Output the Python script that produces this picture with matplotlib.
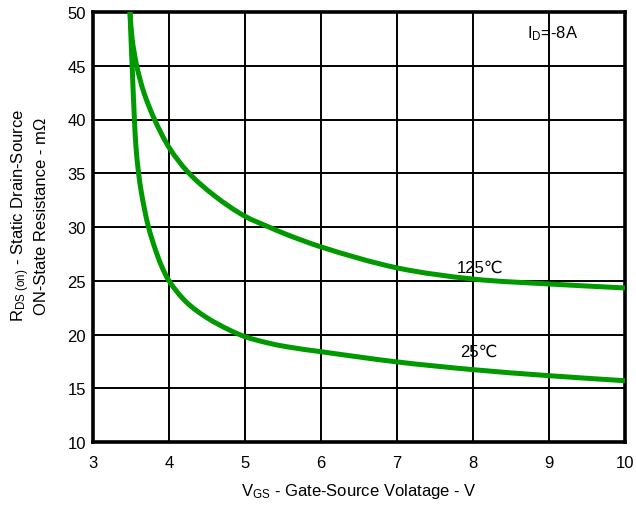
import matplotlib
matplotlib.use("Agg")
import matplotlib.pyplot as plt
import numpy as np
from matplotlib.path import Path
from matplotlib.patches import PathPatch

plt.rcParams['font.family'] = ['Liberation Sans', 'DejaVu Sans']
plt.rcParams['mathtext.fontset'] = 'custom'
plt.rcParams['mathtext.rm'] = 'Liberation Sans'
plt.rcParams['mathtext.it'] = 'Liberation Sans'

# Data
vgs_125 = [3.487, 3.515, 3.575, 3.67, 3.81, 4.01, 4.25, 4.6, 5.0, 5.33, 5.55, 6.0,
           7.0, 8.0, 9.0, 10.0]
rds_125 = [50.0, 47.5, 45.0, 42.5, 40.0, 37.3, 35.1, 32.9, 31.0, 29.95, 29.3, 28.15,
           26.2, 25.16, 24.7, 24.33]

vgs_25 = [3.487, 3.50, 3.515, 3.545, 3.565, 3.60, 3.64, 3.73, 3.816, 3.9, 4.0, 4.23, 4.49,
          4.80, 5.0, 5.31, 5.55, 6.0, 7.0, 8.0, 9.0, 10.0]
rds_25 = [50.0, 47.5, 45.0, 40.0, 37.5, 35.0, 33.07, 30.0, 28.0, 26.4, 25.0, 23.0, 21.6,
          20.4, 19.8, 19.2, 18.86, 18.4, 17.45, 16.73, 16.17, 15.7]

x_ticks = [3, 4, 5, 6, 7, 8, 9, 10]
y_ticks = [10, 15, 20, 25, 30, 35, 40, 45, 50]

fig = plt.figure(figsize=(6.36, 5.06), dpi=100)
ax = fig.add_axes([93/636, 1-443/506, (625-93)/636, (443-13)/506])
ax.set_xlim(3, 10)
ax.set_ylim(10, 50)


def smooth_path(xs, ys, sx=76.0, sy=10.75):
    """Smooth Bezier path through the given data points (tangent-based)."""
    P = np.column_stack([np.asarray(xs) * sx, np.asarray(ys) * sy])
    n = len(P)
    T = np.zeros_like(P)
    for i in range(n):
        if i == 0:
            d = P[1] - P[0]
        elif i == n - 1:
            d = P[-1] - P[-2]
        else:
            d1 = P[i] - P[i - 1]
            d2 = P[i + 1] - P[i]
            d = d1 / np.linalg.norm(d1) + d2 / np.linalg.norm(d2)
        T[i] = d / np.linalg.norm(d)
    verts = [P[0]]
    codes = [Path.MOVETO]
    for i in range(n - 1):
        L = np.linalg.norm(P[i + 1] - P[i]) / 3.0
        verts += [P[i] + T[i] * L, P[i + 1] - T[i + 1] * L, P[i + 1]]
        codes += [Path.CURVE4] * 3
    V = np.array(verts)
    V[:, 0] /= sx
    V[:, 1] /= sy
    return Path(V, codes)


green = '#009900'
for xs, ys in [(vgs_125, rds_125), (vgs_25, rds_25)]:
    patch = PathPatch(smooth_path(xs, ys), facecolor='none', edgecolor=green, lw=3.6,
                      capstyle='butt', joinstyle='round', transform=ax.transData, zorder=3,
                      clip_on=True)
    ax.add_patch(patch)

ax.set_xticks(x_ticks)
ax.set_yticks(y_ticks)
ax.tick_params(length=0, labelsize=12)
ax.tick_params(axis='x', pad=9)
ax.tick_params(axis='y', pad=5)
ax.grid(True, color='black', lw=1.4)
ax.set_axisbelow(True)
for s in ax.spines.values():
    s.set_linewidth(2.6)
    s.set_color('black')

ax.set_xlabel(r'V$_{\mathrm{GS}}$ - Gate-Source Volatage - V', fontsize=12, labelpad=8)
ax.set_ylabel('R$_{\\mathrm{DS\\ (on)}}$ - Static Drain-Source\nON-State Resistance - m\u03a9',
              fontsize=12, linespacing=1.15)
ax.yaxis.set_label_coords(-0.083, 0.528)

ax.text(8.09, 26.3, '125\u2103', fontsize=12, ha='center', va='center')
ax.text(8.07, 18.4, '25\u2103', fontsize=12, ha='center', va='center')
ax.text(9.05, 48.1, r'I$_{\mathrm{D}}$=-8A', fontsize=12, ha='center', va='center')

fig.savefig('out.png', dpi=100, facecolor='white')
